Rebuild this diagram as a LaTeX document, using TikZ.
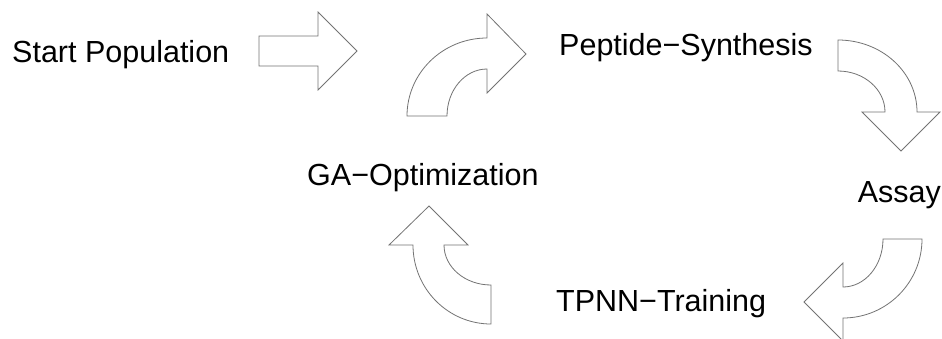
\documentclass[tikz,border=0pt]{standalone}
\usepackage{fontspec}
\setmainfont{Liberation Sans}
\begin{document}
\begin{tikzpicture}[x=1pt,y=-1pt,
  blockarrow/.style={draw=gray!90!black,line width=0.8pt,fill=white,line join=miter},
  lbl/.style={anchor=base west,inner sep=0pt,font=\fontsize{30.5}{36}\selectfont}]
\useasboundingbox (0,0) rectangle (942,338);
% labels
\node[lbl] (start) at (12,62) {Start Population};
\node[lbl] (pep) at (559,55) {Peptide−Synthesis};
\node[lbl] (ga) at (307,185) {GA−Optimization};
\node[lbl,anchor=base east] (assay) at (941,202) {Assay};
\node[lbl] (tpnn) at (556,311) {TPNN−Training};
% straight arrow
\draw[blockarrow] (259,36) -- (318,36) -- (318,12) -- (357,51) -- (318,90) -- (318,66) -- (259,66) -- cycle;
% curved arrow GA -> Peptide
\draw[blockarrow] (407,116) arc[start angle=180,end angle=270,x radius=80,y radius=78]
  -- (487,14) -- (526,54) -- (487,93) -- (487,69)
  arc[start angle=270,end angle=180,x radius=40,y radius=47] -- cycle;
% curved arrow Peptide -> Assay
\draw[blockarrow] (838,40) arc[start angle=270,end angle=360,x radius=79,y radius=72]
  -- (940,112) -- (901,151) -- (862,112) -- (885,112)
  arc[start angle=0,end angle=-90,x radius=47,y radius=41] -- cycle;
% curved arrow Assay -> TPNN
\draw[blockarrow] (883,239) -- (922,239)
  arc[start angle=0,end angle=90,x radius=79,y radius=79]
  -- (843,341) -- (804,302) -- (843,263) -- (843,287)
  arc[start angle=90,end angle=0,x radius=40,y radius=48] -- cycle;
% curved arrow TPNN -> GA
\draw[blockarrow] (491,324) arc[start angle=90,end angle=180,x radius=78,y radius=79]
  -- (389,245) -- (429,206) -- (468,245) -- (444,245)
  arc[start angle=180,end angle=90,x radius=47,y radius=40] -- cycle;
\end{tikzpicture}
\end{document}
